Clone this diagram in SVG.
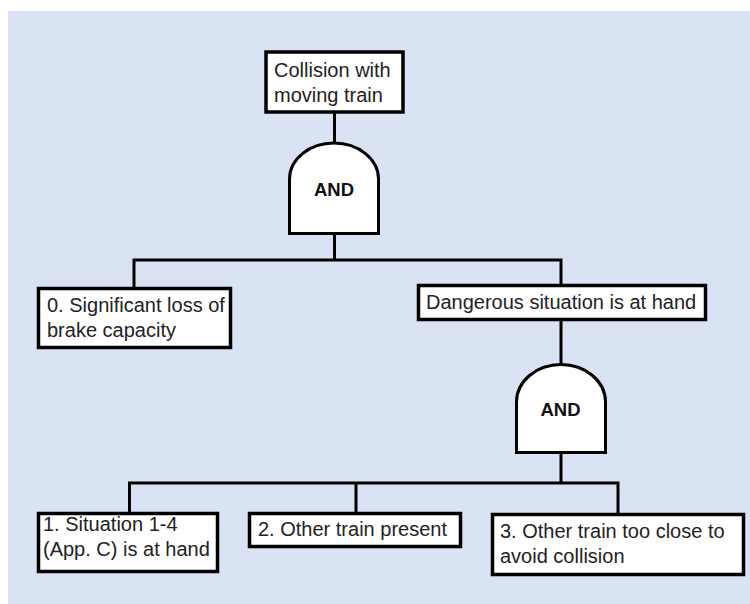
<svg xmlns="http://www.w3.org/2000/svg" width="750" height="604" viewBox="0 0 750 604">
<style>
.bg{fill:#dae3f3}
.box{fill:#fff;stroke:#000;stroke-width:3.5}
.gate{fill:#fff;stroke:#000;stroke-width:3}
.conn{fill:none;stroke:#000;stroke-width:3;stroke-linejoin:miter}
.t{font-family:"Liberation Sans",Arial,sans-serif;font-size:20px;fill:#222}
.g{font-family:"Liberation Sans",Arial,sans-serif;font-size:18.5px;font-weight:bold;fill:#111;text-anchor:middle}
</style>
<rect class="bg" x="8" y="11" width="742" height="593"/>
<g id="connectors">
<path class="conn" d="M334.5 113 V143"/>
<path class="conn" d="M334.5 233 V260 M134 287 V260 H561 V284"/>
<path class="conn" d="M561 321 V364"/>
<path class="conn" d="M561 452 V483 M129.5 512 V483 H618 V513 M356 483 V512"/>
</g>
<g id="top-event">
<rect class="box" x="266" y="52" width="137" height="60"/>
<text class="t" x="274" y="77">Collision with</text>
<text class="t" x="274" y="102">moving train</text>
</g>
<g id="and-gate-1">
<path class="gate" d="M289.5 233.5 V179 A44.5 36 0 0 1 378.5 179 V233.5 Z"/>
<text class="g" x="334" y="196">AND</text>
</g>
<g id="event-0">
<rect class="box" x="38.5" y="288.5" width="192" height="59"/>
<text class="t" x="47" y="312">0. Significant loss of</text>
<text class="t" x="47" y="337">brake capacity</text>
</g>
<g id="dangerous-situation">
<rect class="box" x="418.5" y="285.5" width="287" height="34"/>
<text class="t" x="426" y="309">Dangerous situation is at hand</text>
</g>
<g id="and-gate-2">
<path class="gate" d="M516.5 452.5 V402 A44.5 37.5 0 0 1 605.5 402 V452.5 Z"/>
<text class="g" x="560.5" y="415.5">AND</text>
</g>
<g id="event-1">
<rect class="box" x="38.5" y="513.5" width="179" height="58"/>
<text class="t" x="43" y="531">1. Situation 1-4</text>
<text class="t" x="43" y="556">(App. C) is at hand</text>
</g>
<g id="event-2">
<rect class="box" x="249.5" y="513.5" width="211" height="33"/>
<text class="t" x="258" y="536">2. Other train present</text>
</g>
<g id="event-3">
<rect class="box" x="492.5" y="514.5" width="251" height="60"/>
<text class="t" x="500" y="538">3. Other train too close to</text>
<text class="t" x="500" y="563">avoid collision</text>
</g>
</svg>
